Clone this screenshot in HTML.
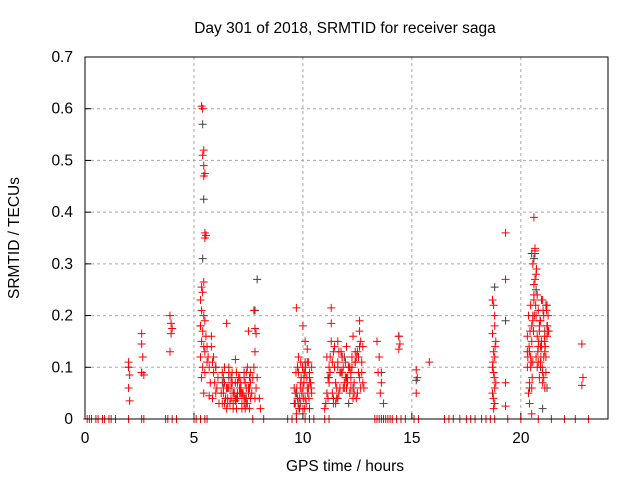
<!DOCTYPE html>
<html><head><meta charset="utf-8"><style>
body{margin:0;background:#fff}
svg{display:block;font-family:"Liberation Sans",sans-serif}
</style></head><body>
<svg id="chart" width="640" height="480">
<text x="345" y="33" text-anchor="middle" font-size="15.5">Day 301 of 2018, SRMTID for receiver saga</text>
<text x="0" y="0" transform="translate(19,238) rotate(-90)" text-anchor="middle" font-size="15.5">SRMTID / TECUs</text>
<text x="345" y="471" text-anchor="middle" font-size="15.5">GPS time / hours</text>
<g id="grid"></g><g id="ticks"></g><g id="black"></g><g id="red"></g>
<rect x="85" y="57" width="523" height="362" fill="none" stroke="#000"/>
</svg>
<script>
const xTicks=[0,5,10,15,20];
const yTicks=[0,0.1,0.2,0.3,0.4,0.5,0.6,0.7];
const yTickLabels=["0","0.1","0.2","0.3","0.4","0.5","0.6","0.7"];
const blackT=[5.4,5.45,5.4,5.3,7.9,7.8,6.3,6.8,7.1,7.4,9.7,9.9,10.1,10.3,11.2,11.6,11.9,12.3,12.6,13.6,14.4,15.2,18.8,19.3,20.5,20.7,20.9,21.1,20.4,21.0,6.0,6.6,7.3,10.0,12.1,20.6,21.2,2.0,2.6];
const blackV=[0.57,0.425,0.31,0.18,0.27,0.21,0.07,0.05,0.06,0.04,0.05,0.03,0.11,0.02,0.08,0.04,0.12,0.06,0.14,0.09,0.16,0.075,0.255,0.19,0.32,0.25,0.1,0.17,0.06,0.02,0.1,0.08,0.09,0.01,0.03,0.31,0.06,0.1,0.09];
const redT=[2.0,2.0,2.05,2.0,2.05,2.6,2.6,2.65,2.6,2.7,3.9,3.95,4.0,3.95,3.9,
5.35,5.4,5.45,5.4,5.45,5.5,5.45,5.5,5.55,5.5,5.45,5.35,5.4,5.3,5.35,5.45,5.5,5.3,5.4,5.55,5.35,5.45,5.5,5.3,5.6,5.4,5.5,5.35,5.45,
5.8,5.9,5.85,6.0,5.9,6.1,5.95,6.05,6.0,5.85,6.15,
6.3,6.4,6.5,6.35,6.45,6.6,6.7,6.55,6.8,6.9,6.75,7.0,7.1,6.95,7.2,7.3,7.15,7.4,7.5,7.35,7.6,7.45,7.55,6.4,6.6,6.8,7.0,7.2,7.4,6.5,6.9,7.1,7.3,6.7,7.5,6.5,6.9,7.6,
7.75,7.8,7.85,7.8,7.75,7.9,7.85,7.8,8.0,8.05,
9.6,9.7,9.65,9.8,9.75,9.9,9.85,10.0,9.95,10.1,10.05,10.2,10.15,10.3,10.25,10.4,9.7,9.9,10.1,10.3,9.8,10.0,10.2,9.6,10.4,9.75,10.05,10.35,10.0,10.1,10.2,
11.0,11.1,11.2,11.3,11.3,11.4,11.5,11.6,11.7,11.8,11.9,12.0,12.1,12.2,12.3,12.4,12.5,12.6,12.7,11.15,11.35,11.55,11.75,11.95,12.15,12.35,12.55,12.75,11.25,11.45,11.65,11.85,12.05,12.25,12.45,12.65,11.4,11.8,12.2,12.6,11.6,12.0,12.4,12.8,11.1,11.5,11.9,12.3,12.7,
13.4,13.5,13.45,13.6,13.55,13.7,14.4,14.45,14.4,15.2,15.25,15.2,15.8,
18.7,18.75,18.8,18.7,18.85,18.75,18.8,18.7,18.75,18.85,18.7,18.8,18.75,18.8,19.3,19.3,19.3,19.3,
20.3,20.35,20.4,20.45,20.5,20.55,20.6,20.65,20.7,20.75,20.8,20.85,20.9,20.95,21.0,21.05,21.1,21.15,21.2,21.25,20.3,20.4,20.5,20.6,20.7,20.8,20.9,21.0,21.1,21.2,20.35,20.45,20.55,20.65,20.75,20.85,20.95,21.05,21.15,21.25,20.5,20.55,20.6,20.4,20.7,20.9,21.1,20.3,20.6,20.8,21.0,21.2,20.5,20.65,
22.8,22.85,22.8];
const redV=[0.11,0.1,0.085,0.06,0.035,0.165,0.145,0.12,0.09,0.085,0.2,0.185,0.175,0.165,0.13,
0.605,0.6,0.52,0.51,0.49,0.475,0.47,0.36,0.355,0.35,0.265,0.255,0.245,0.23,0.21,0.2,0.19,0.18,0.17,0.16,0.15,0.14,0.13,0.12,0.11,0.1,0.09,0.08,0.05,
0.16,0.12,0.11,0.1,0.09,0.08,0.07,0.06,0.05,0.04,0.03,
0.09,0.07,0.185,0.05,0.04,0.06,0.08,0.03,0.05,0.115,0.07,0.04,0.06,0.09,0.03,0.08,0.05,0.06,0.17,0.04,0.07,0.1,0.02,0.03,0.1,0.02,0.07,0.05,0.03,0.06,0.04,0.08,0.03,0.06,0.05,0.02,0.035,0.09,
0.21,0.175,0.165,0.13,0.1,0.08,0.06,0.04,0.04,0.02,
0.06,0.215,0.03,0.09,0.04,0.11,0.02,0.18,0.05,0.15,0.07,0.135,0.03,0.08,0.06,0.1,0.01,0.07,0.04,0.09,0.12,0.02,0.06,0.03,0.05,0.1,0.08,0.07,0.06,0.09,0.11,
0.02,0.05,0.1,0.215,0.185,0.13,0.07,0.15,0.09,0.12,0.06,0.14,0.1,0.08,0.16,0.11,0.13,0.17,0.09,0.04,0.11,0.06,0.13,0.08,0.1,0.05,0.12,0.07,0.09,0.14,0.05,0.1,0.07,0.12,0.04,0.15,0.03,0.09,0.06,0.19,0.11,0.08,0.13,0.06,0.12,0.03,0.07,0.04,0.11,
0.15,0.12,0.09,0.07,0.05,0.03,0.16,0.145,0.135,0.095,0.08,0.05,0.11,
0.23,0.22,0.18,0.165,0.15,0.13,0.12,0.1,0.09,0.07,0.05,0.03,0.02,0.06,0.36,0.27,0.07,0.025,
0.16,0.2,0.13,0.22,0.18,0.3,0.39,0.33,0.28,0.24,0.21,0.17,0.19,0.14,0.23,0.2,0.16,0.22,0.18,0.2,0.1,0.07,0.15,0.26,0.12,0.14,0.11,0.09,0.13,0.16,0.05,0.12,0.19,0.32,0.1,0.08,0.15,0.12,0.09,0.17,0.06,0.11,0.24,0.03,0.2,0.14,0.06,0.13,0.23,0.11,0.07,0.22,0.01,0.325,
0.145,0.08,0.065];
const extraT=[6.25,6.35,6.45,6.55,6.65,6.75,6.85,6.95,7.05,7.15,7.25,7.35,7.45,7.55,7.65,6.3,6.5,6.7,6.9,7.1,7.3,7.5,7.7,6.4,6.6,6.8,7.0,7.2,7.4,7.6,6.35,6.55,6.75,6.95,7.15,7.35,7.55,
5.6,5.7,5.75,5.65,5.8,5.7,
9.62,9.72,9.82,9.92,10.02,10.12,10.22,10.32,9.68,9.78,9.88,9.98,10.08,10.18,10.28,10.38,9.65,9.85,10.05,10.25,
11.05,11.15,11.25,11.35,11.45,11.55,11.65,11.75,11.85,11.95,12.05,12.15,12.25,12.35,12.45,12.55,12.65,12.75,11.2,11.4,11.6,11.8,12.0,12.2,12.4,12.6,11.3,11.7,12.1,12.5,
20.32,20.42,20.52,20.62,20.72,20.82,20.92,21.02,21.12,21.22,20.38,20.48,20.58,20.68,20.78,20.88,20.98,21.08,21.18,21.28,20.45,20.65,20.85,21.05,21.15,20.55,20.75,20.95,
18.72,18.78,18.82,18.74,18.8];
const extraV=[0.05,0.08,0.04,0.06,0.03,0.07,0.05,0.04,0.08,0.06,0.05,0.07,0.03,0.06,0.05,0.03,0.06,0.04,0.07,0.05,0.04,0.06,0.08,0.1,0.09,0.03,0.05,0.02,0.09,0.04,0.06,0.04,0.09,0.02,0.07,0.02,0.08,
0.14,0.1,0.07,0.12,0.14,0.045,
0.03,0.06,0.02,0.08,0.04,0.1,0.05,0.07,0.09,0.03,0.06,0.1,0.02,0.08,0.04,0.06,0.05,0.04,0.09,0.11,
0.03,0.08,0.12,0.05,0.1,0.04,0.13,0.09,0.06,0.11,0.08,0.05,0.1,0.07,0.12,0.09,0.06,0.14,0.07,0.04,0.1,0.12,0.06,0.09,0.11,0.08,0.15,0.06,0.1,0.05,
0.12,0.17,0.08,0.2,0.29,0.15,0.12,0.21,0.14,0.18,0.14,0.11,0.17,0.22,0.13,0.19,0.1,0.15,0.21,0.17,0.1,0.27,0.18,0.08,0.12,0.2,0.16,0.23,
0.11,0.08,0.14,0.04,0.2];
const zeroT=[0.1,0.2,0.3,0.5,0.6,0.8,0.9,1.1,1.2,1.4,2.0,2.6,2.7,3.7,3.8,4.0,4.2,5.0,5.1,5.3,5.5,5.6,7.7,8.2,9.3,9.5,9.7,10.1,10.3,10.5,11.0,11.2,13.3,13.4,13.5,13.6,13.7,13.8,13.9,14.0,14.1,14.3,14.5,14.7,15.1,15.3,16.5,16.7,16.9,17.2,17.5,17.7,17.9,18.2,18.4,18.6,18.8,19.4,20.0,20.8,21.4,22.0,22.5,23.1];
const NS="http://www.w3.org/2000/svg";
const L=85,R=608,T=57,B=419;
function xs(t){return L+(t/24)*(R-L);}
function ys(v){return B-(v/0.7)*(B-T);}
function mk(tag,attrs,parent){const e=document.createElementNS(NS,tag);for(const k in attrs)e.setAttribute(k,attrs[k]);parent.appendChild(e);return e;}
const grid=document.getElementById('grid'),ticks=document.getElementById('ticks');
xTicks.forEach(t=>{
  if(t>0){const g=mk('line',{x1:xs(t),x2:xs(t),y1:T,y2:B,stroke:'#a8a8a8','stroke-dasharray':'3,3'},grid);
  
  }
  const tk=mk('line',{x1:xs(t),x2:xs(t),y1:B,y2:B-6,stroke:'#000'},ticks);
  
  
  const lb=mk('text',{x:xs(t),y:B+24,'text-anchor':'middle','font-size':15.5},ticks);lb.textContent=t;
  
  
});
yTicks.forEach((v,i)=>{
  if(v>0&&v<0.7){const g=mk('line',{x1:L,x2:R,y1:ys(v),y2:ys(v),stroke:'#a8a8a8','stroke-dasharray':'3,3'},grid);
  
  }
  const tk=mk('line',{x1:L,x2:L+6,y1:ys(v),y2:ys(v),stroke:'#000'},ticks);
  
  
  const lb=mk('text',{x:L-12,y:ys(v)+5,'text-anchor':'end','font-size':15.5},ticks);lb.textContent=yTickLabels[i];
  
  
});
function plus(parent,t,v,color,name){
  const x=xs(t),y=ys(v);
  const p=mk('path',{d:`M${x-4},${y}h8M${x},${y-4}v8`,stroke:color,'stroke-width':1,fill:'none'},parent);
  
  
}
const bg=document.getElementById('black'),rg=document.getElementById('red');
blackT.forEach((t,i)=>plus(bg,t,blackV[i],'#404040','black-point'));
redT.forEach((t,i)=>plus(rg,t,redV[i],'#ff0000','red-point'));
extraT.forEach((t,i)=>plus(rg,t,extraV[i],'#ff0000','red-point'));
zeroT.forEach(t=>plus(rg,t,0,'#ff0000','zero-point'));
</script>
</body></html>
